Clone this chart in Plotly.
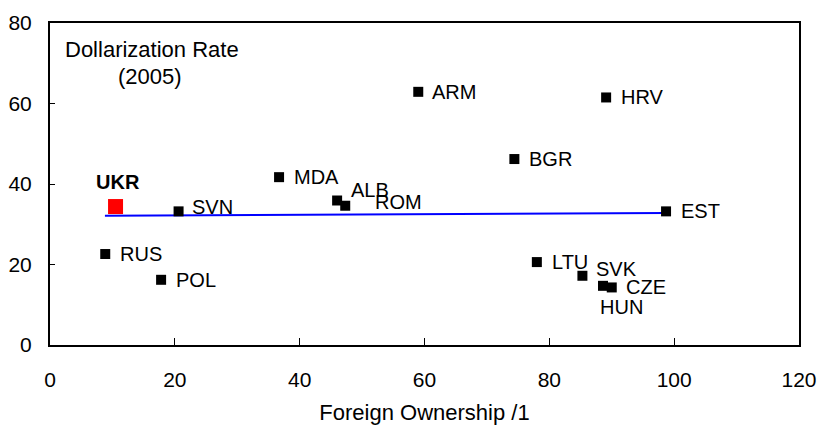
import plotly.graph_objects as go

# ---- data ----
countries = ["UKR", "RUS", "POL", "SVN", "MDA", "ALB", "ROM", "ARM", "BGR",
             "HRV", "EST", "LTU", "SVK", "HUN", "CZE"]
foreign_ownership = [10.5, 8.85, 17.8, 20.6, 36.7, 46.0, 47.3, 59.0, 74.4,
                     89.1, 98.7, 78.0, 85.3, 88.6, 90.0]
dollarization = [34.4, 22.6, 16.2, 33.2, 41.7, 35.9, 34.6, 62.9, 46.2,
                 61.5, 33.2, 20.6, 17.2, 14.7, 14.3]
trend_x = [8.8, 98.7]
trend_y = [32.1, 32.8]
x_ticks = [0, 20, 40, 60, 80, 100, 120]
y_ticks = [0, 20, 40, 60, 80]

# ---- label offsets (pixels) ----
label_offsets = {
    "RUS": (13, 0), "POL": (13, 0), "SVN": (11, 4), "MDA": (13, 0),
    "ALB": (12, 11), "ROM": (28, 4), "ARM": (12, 0), "BGR": (13, 0),
    "HRV": (13, 0), "EST": (13, 0), "LTU": (13, 0), "SVK": (12, 7),
    "CZE": (12, 0), "HUN": (-5, -21),
}

FONT = "Liberation Sans, Arial, sans-serif"
FS_LABEL = 20
FS_TICK = 21
FS_TITLE = 22

fig = go.Figure()

fig.add_trace(go.Scatter(
    x=trend_x, y=trend_y, mode="lines",
    line=dict(color="#0000ff", width=2), hoverinfo="skip", showlegend=False))

others = [i for i, c in enumerate(countries) if c != "UKR"]
fig.add_trace(go.Scatter(
    x=[foreign_ownership[i] for i in others],
    y=[dollarization[i] for i in others],
    mode="markers",
    marker=dict(symbol="square", size=10, color="black", line=dict(width=0)),
    showlegend=False))

iu = countries.index("UKR")
fig.add_trace(go.Scatter(
    x=[foreign_ownership[iu]], y=[dollarization[iu]], mode="markers",
    marker=dict(symbol="square", size=15, color="#ff0000", line=dict(width=0)),
    showlegend=False))

annotations = []
for i, c in enumerate(countries):
    if c == "UKR":
        annotations.append(dict(
            x=foreign_ownership[i], y=dollarization[i], xref="x", yref="y",
            text="<b>UKR</b>", showarrow=False, xanchor="center", yanchor="middle",
            xshift=2, yshift=25, font=dict(family=FONT, size=FS_LABEL, color="black")))
    else:
        dx, dy = label_offsets[c]
        annotations.append(dict(
            x=foreign_ownership[i], y=dollarization[i], xref="x", yref="y",
            text=c, showarrow=False, xanchor="left", yanchor="middle",
            xshift=dx, yshift=dy, font=dict(family=FONT, size=FS_LABEL, color="black")))

annotations.append(dict(
    x=0.136, y=0.918, xref="paper", yref="paper", text="Dollarization Rate",
    showarrow=False, xanchor="center", yanchor="middle",
    font=dict(family=FONT, size=FS_TITLE, color="black")))
annotations.append(dict(
    x=0.134, y=0.834, xref="paper", yref="paper", text="(2005)",
    showarrow=False, xanchor="center", yanchor="middle",
    font=dict(family=FONT, size=FS_TITLE, color="black")))

fig.update_layout(
    width=818, height=425,
    margin=dict(l=50, r=19, t=23, b=80),
    paper_bgcolor="white", plot_bgcolor="white",
    font=dict(family=FONT, size=FS_TICK, color="black"),
    annotations=annotations,
    showlegend=False,
)

fig.update_xaxes(
    range=[0, 120], tickvals=x_ticks, ticks="inside", ticklen=7, tickwidth=1,
    tickcolor="black", showline=True, linewidth=2, linecolor="black",
    mirror=True, showgrid=False, zeroline=False, ticklabelstandoff=15,
    automargin=False,
    title=dict(text="Foreign Ownership /1", standoff=14,
               font=dict(family=FONT, size=FS_TITLE)),
    tickfont=dict(family=FONT, size=FS_TICK))

fig.update_yaxes(
    range=[0, 80], tickvals=y_ticks, ticks="inside", ticklen=5, tickwidth=1,
    tickcolor="black", showline=True, linewidth=2, linecolor="black",
    mirror=True, showgrid=False, zeroline=False, ticklabelstandoff=12,
    automargin=False,
    tickfont=dict(family=FONT, size=FS_TICK))

fig.write_html("out.html")
